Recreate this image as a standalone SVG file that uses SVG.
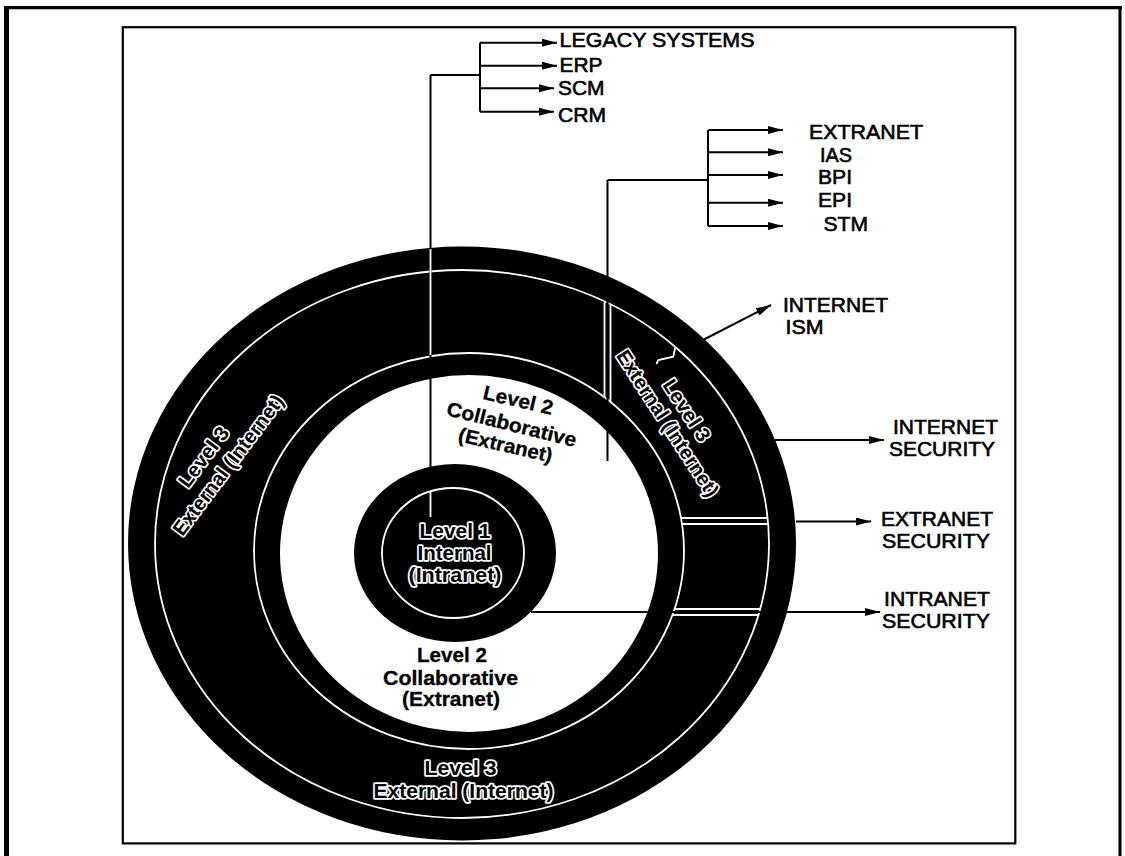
<svg xmlns="http://www.w3.org/2000/svg" width="1125" height="856" viewBox="0 0 1125 856">
  <defs>
    <style>
      .lbl{font-family:"Liberation Sans",Arial,Helvetica,sans-serif;font-size:20px;fill:#000;stroke:#000;stroke-width:0.6}
      .lvl{font-family:"Liberation Sans",Arial,Helvetica,sans-serif;font-size:20px;font-weight:bold;fill:#000;stroke:#000;stroke-width:0.3}
      .out{font-family:"Liberation Sans",Arial,Helvetica,sans-serif;font-size:20px;font-weight:bold;fill:#000;stroke:#fff;stroke-width:3.4;paint-order:stroke;stroke-linejoin:round}
      .wire{fill:none;stroke:#000;stroke-width:2}
      .arrow{fill:none;stroke:#000;stroke-width:2;marker-end:url(#ah)}
      .sep{fill:none;stroke:#fff;stroke-width:1.8}
    </style>
    <marker id="ah" markerWidth="15" markerHeight="8" refX="15" refY="4" orient="auto" markerUnits="userSpaceOnUse">
      <path d="M0,0 L15,4 L0,8 Z" fill="#000"/>
    </marker>
  </defs>

  <rect width="1125" height="856" fill="#fff"/>

  <!-- page frame and figure box -->
  <g id="frame" fill="none" stroke="#000">
    <path d="M6.5 856 V6" stroke-width="5"/>
    <path d="M4 7.7 H1122" stroke-width="3.3"/>
    <path d="M1120 6 V856" stroke-width="3"/>
    <rect x="122.8" y="27.2" width="892.5" height="816.2" stroke-width="2.2"/>
  </g>

  <!-- Level 3: external ring with its segments -->
  <g id="level3-ring">
    <ellipse cx="462" cy="543.5" rx="334" ry="297" fill="#000"/>
    <ellipse cx="462" cy="544" rx="307" ry="274" class="sep"/>
    <ellipse cx="469" cy="551" rx="215" ry="198" class="sep"/>
    <!-- segment dividers -->
    <path class="sep" d="M604.5 301.3 V397.3 M610.5 304.2 V401.9"/>
    <path class="sep" d="M681 518 H767.6 M682 524 H768"/>
    <path class="sep" d="M674.6 609 H760.2 M672.5 615 H758.5"/>
    <path class="sep" stroke-linecap="round" d="M675 348.3 L673.3 356.7 L658.3 360 L656.7 363.3"/>
  </g>

  <!-- Level 2: collaborative zone -->
  <g id="level2-ring">
    <ellipse cx="469" cy="553.5" rx="189" ry="178.5" fill="#fff"/>
  </g>

  <!-- Level 1: internal core -->
  <g id="level1-core">
    <ellipse cx="455" cy="553" rx="101" ry="89" fill="#000"/>
    <ellipse cx="453" cy="553" rx="71" ry="65" class="sep"/>
  </g>

  <!-- connectors -->
  <g id="connectors">
    <!-- enterprise systems fan-out -->
    <path class="wire" d="M430.5 75 V467 M430.5 75 H480 M480 42.7 V111.7"/>
    <path class="arrow" d="M480 42.7 H557"/>
    <path class="arrow" d="M480 65.7 H557"/>
    <path class="arrow" d="M480 88.3 H554"/>
    <path class="arrow" d="M480 111.7 H554"/>
    <path class="sep" d="M430.5 249 V355 M430.5 491 V517"/>
    <!-- extranet services fan-out -->
    <path class="wire" d="M607.5 180 V461 M607.5 180 H708 M708 130 V226"/>
    <path class="arrow" d="M708 130 H783"/>
    <path class="arrow" d="M708 152.3 H783"/>
    <path class="arrow" d="M708 175 H783"/>
    <path class="arrow" d="M708 202.7 H783"/>
    <path class="arrow" d="M708 226 H783"/>
    <!-- security and ISM arrows -->
    <path class="arrow" d="M703 340 L771 305"/>
    <path class="arrow" d="M775 440 H884"/>
    <path class="arrow" d="M796 521.5 H871"/>
    <path class="arrow" d="M531 612 H880"/>
  </g>

  <g id="label-legacy" class="lbl">
    <text x="559.5" y="47.3" textLength="195" lengthAdjust="spacingAndGlyphs">LEGACY SYSTEMS</text>
  </g>
  <g id="label-erp" class="lbl">
    <text x="559.5" y="71.7" textLength="43" lengthAdjust="spacingAndGlyphs">ERP</text>
  </g>
  <g id="label-scm" class="lbl">
    <text x="558" y="95" textLength="46.5" lengthAdjust="spacingAndGlyphs">SCM</text>
  </g>
  <g id="label-crm" class="lbl">
    <text x="558" y="121.7" textLength="48" lengthAdjust="spacingAndGlyphs">CRM</text>
  </g>

  <g id="label-extranet" class="lbl">
    <text x="809" y="138.5" textLength="114" lengthAdjust="spacingAndGlyphs">EXTRANET</text>
  </g>
  <g id="label-ias" class="lbl">
    <text x="820" y="161.7" textLength="32" lengthAdjust="spacingAndGlyphs">IAS</text>
  </g>
  <g id="label-bpi" class="lbl">
    <text x="818" y="184" textLength="34" lengthAdjust="spacingAndGlyphs">BPI</text>
  </g>
  <g id="label-epi" class="lbl">
    <text x="818" y="206.7" textLength="34" lengthAdjust="spacingAndGlyphs">EPI</text>
  </g>
  <g id="label-stm" class="lbl">
    <text x="823.5" y="230.7" textLength="44.5" lengthAdjust="spacingAndGlyphs">STM</text>
  </g>

  <g id="label-internet-ism" class="lbl">
    <text x="783" y="312.3" textLength="105" lengthAdjust="spacingAndGlyphs">INTERNET</text>
    <text x="785.5" y="334" textLength="38" lengthAdjust="spacingAndGlyphs">ISM</text>
  </g>
  <g id="label-internet-security" class="lbl">
    <text x="893" y="433.5" textLength="105" lengthAdjust="spacingAndGlyphs">INTERNET</text>
    <text x="889" y="456" textLength="106" lengthAdjust="spacingAndGlyphs">SECURITY</text>
  </g>
  <g id="label-extranet-security" class="lbl">
    <text x="881" y="525.7" textLength="112" lengthAdjust="spacingAndGlyphs">EXTRANET</text>
    <text x="882" y="548.3" textLength="108" lengthAdjust="spacingAndGlyphs">SECURITY</text>
  </g>
  <g id="label-intranet-security" class="lbl">
    <text x="884" y="605.7" textLength="106" lengthAdjust="spacingAndGlyphs">INTRANET</text>
    <text x="882" y="628" textLength="108" lengthAdjust="spacingAndGlyphs">SECURITY</text>
  </g>

  <!-- ring captions -->
  <g id="caption-level1" class="out" text-anchor="middle">
    <text x="455" y="538" textLength="71" lengthAdjust="spacingAndGlyphs">Level 1</text>
    <text x="454.5" y="560" textLength="74" lengthAdjust="spacingAndGlyphs">Internal</text>
    <text x="455" y="581.5" textLength="93" lengthAdjust="spacingAndGlyphs">(Intranet)</text>
  </g>

  <g id="caption-level2-upper" class="lvl" text-anchor="middle">
    <text transform="translate(516.7 406.8) rotate(13)" textLength="71" lengthAdjust="spacingAndGlyphs">Level 2</text>
    <text transform="translate(510 431) rotate(14)" textLength="133" lengthAdjust="spacingAndGlyphs">Collaborative</text>
    <text transform="translate(504 451.8) rotate(13)" textLength="96" lengthAdjust="spacingAndGlyphs">(Extranet)</text>
  </g>

  <g id="caption-level2-lower" class="lvl" text-anchor="middle">
    <text x="452" y="662" textLength="70" lengthAdjust="spacingAndGlyphs">Level 2</text>
    <text x="450.5" y="685" textLength="135" lengthAdjust="spacingAndGlyphs">Collaborative</text>
    <text x="451" y="706" textLength="98" lengthAdjust="spacingAndGlyphs">(Extranet)</text>
  </g>

  <g id="caption-level3-bottom" class="out" text-anchor="middle">
    <text x="460.5" y="775" textLength="72" lengthAdjust="spacingAndGlyphs">Level 3</text>
    <text x="463.5" y="798" textLength="180" lengthAdjust="spacingAndGlyphs">External (Internet)</text>
  </g>

  <g id="caption-level3-left" class="out" text-anchor="middle">
    <text transform="translate(209 461) rotate(-53)" textLength="70" lengthAdjust="spacingAndGlyphs">Level 3</text>
    <text transform="translate(233.6 469) rotate(-53)" textLength="170" lengthAdjust="spacingAndGlyphs">External (Internet)</text>
  </g>

  <g id="caption-level3-right" class="out" text-anchor="middle">
    <text transform="translate(681 414) rotate(57)" textLength="70" lengthAdjust="spacingAndGlyphs">Level 3</text>
    <text transform="translate(662 427) rotate(57)" textLength="170" lengthAdjust="spacingAndGlyphs">External (Internet)</text>
  </g>
</svg>
